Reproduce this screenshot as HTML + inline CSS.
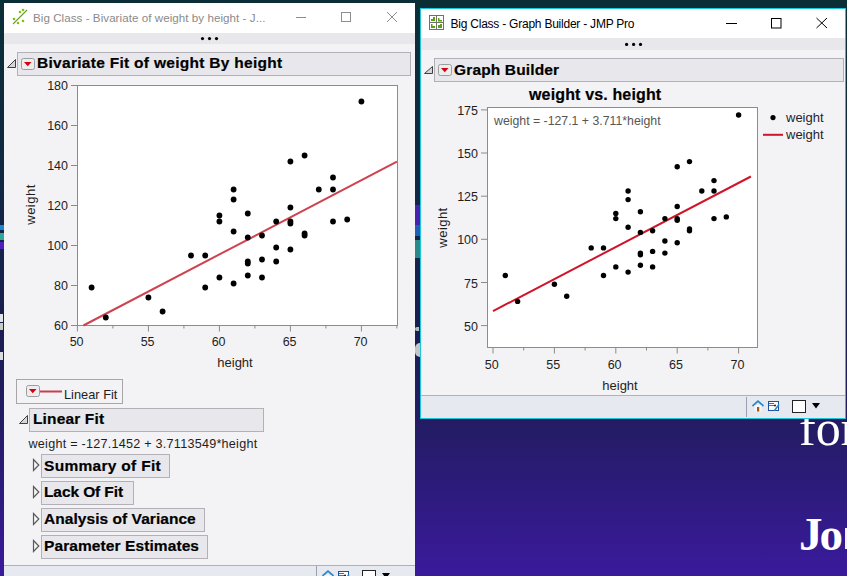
<!DOCTYPE html>
<html><head><meta charset="utf-8">
<style>
html,body{margin:0;padding:0;}
body{width:847px;height:576px;overflow:hidden;position:relative;font-family:"Liberation Sans",sans-serif;
background:linear-gradient(180deg,#0b2e36 0px,#0f2a40 150px,#1a1e52 330px,#241c66 430px,#3a1a9c 576px);}
.a{position:absolute;}
.t{position:absolute;white-space:nowrap;line-height:1;}
.hdr{position:absolute;box-sizing:border-box;border:1px solid #b4b0b8;background:#e8e8ec;}
.hb{letter-spacing:0.15px;}
.b{font-weight:bold;color:#000;-webkit-text-stroke:0.2px #000;}
svg{position:absolute;left:0;top:0;overflow:visible;}
</style></head><body>

<!-- desktop text -->
<div class="t" style="left:799px;top:402.8px;font-family:'Liberation Serif',serif;font-size:50px;color:#fff;">for</div>
<div class="t" style="left:799px;top:510.5px;font-family:'Liberation Serif',serif;font-size:47px;font-weight:bold;letter-spacing:-3px;color:#fff;">Jo</div>
<div class="a" style="left:845px;top:528px;width:2px;height:21px;background:#f4f4f8;"></div>

<!-- left strip details -->
<div class="a" style="left:0;top:225px;width:4px;height:5px;background:#1a88d0;"></div>
<div class="a" style="left:0;top:233px;width:4px;height:7px;background:#30a898;"></div>
<div class="a" style="left:0;top:242px;width:4px;height:7px;background:#5020b8;"></div>
<div class="a" style="left:0;top:314px;width:3px;height:8px;background:#e0e4ea;"></div>
<div class="a" style="left:0;top:323px;width:3px;height:7px;background:#c8ccc0;"></div>
<div class="a" style="left:0;top:352px;width:3px;height:8px;background:#d8dce0;"></div>

<div class="a" style="left:415px;top:205px;width:5px;height:20px;background:#4a22b0;"></div>
<div class="a" style="left:415px;top:225px;width:5px;height:11px;background:#2060b8;"></div>
<div class="a" style="left:415px;top:240px;width:5px;height:18px;background:#2a8a88;"></div>
<div class="a" style="left:415px;top:327px;width:4px;height:4px;border-radius:3px 0 0 3px;background:#b8bcc0;"></div>
<div class="a" style="left:415px;top:343px;width:5px;height:14px;border-radius:5px 0 0 5px;background:#c4c6c8;"></div>
<!-- ============ LEFT WINDOW ============ -->
<div class="a" style="left:4px;top:3px;width:411px;height:573px;background:#f3f3f5;"></div>
<div class="a" style="left:4px;top:3px;width:411px;height:30px;background:#fff;"></div>
<div class="a" style="left:4px;top:33px;width:411px;height:11px;background:#e8e8ec;"></div>
<div class="t" style="left:33px;top:11.5px;font-size:11.6px;color:#8a8a8a;letter-spacing:0.05px;">Big Class - Bivariate of weight by height - J...</div>

<!-- status bar left -->
<div class="a" style="left:4px;top:565px;width:411px;height:1px;background:#a9b1c8;"></div>
<div class="a" style="left:4px;top:566px;width:411px;height:10px;background:#e6e9f0;"></div>
<div class="a" style="left:316px;top:566px;width:1px;height:10px;background:#9aa0b0;"></div>

<!-- left plot frame -->
<div class="a" style="left:77px;top:85px;width:321px;height:241px;box-sizing:border-box;border:1px solid #8c8c8c;background:#fff;"></div>

<!-- outline header left -->
<div class="hdr" style="left:17px;top:52px;width:394px;height:24px;"></div>
<div class="t b hb" style="left:37px;top:55px;font-size:15.5px;letter-spacing:0.29px;">Bivariate Fit of weight By height</div>



<!-- legend box -->
<div class="a" style="left:16px;top:379px;width:107px;height:25px;box-sizing:border-box;border:1px solid #a6a6a6;"></div>
<div class="t" style="left:64px;top:389px;font-size:12.8px;color:#1e1e1e;">Linear Fit</div>

<div class="hdr" style="left:29px;top:408px;width:235px;height:24px;"></div>
<div class="t b hb" style="left:33px;top:411px;font-size:15.5px;">Linear Fit</div>
<div class="t" style="left:28.5px;top:437.5px;font-size:12.6px;color:#1e1e1e;letter-spacing:0.25px;">weight = -127.1452 + 3.7113549*height</div>

<div class="hdr" style="left:41px;top:454px;width:129px;height:24px;"></div>
<div class="t b hb" style="left:44px;top:458px;font-size:15.5px;letter-spacing:0.3px;">Summary of Fit</div>
<div class="hdr" style="left:41px;top:481px;width:93px;height:24px;"></div>
<div class="t b hb" style="left:44px;top:484px;font-size:15.5px;letter-spacing:-0.1px;">Lack Of Fit</div>
<div class="hdr" style="left:41px;top:508px;width:164px;height:24px;"></div>
<div class="t b hb" style="left:44px;top:511px;font-size:15.5px;letter-spacing:0.05px;">Analysis of Variance</div>
<div class="hdr" style="left:41px;top:535px;width:167px;height:24px;"></div>
<div class="t b hb" style="left:44px;top:538px;font-size:15.5px;letter-spacing:0.09px;">Parameter Estimates</div>

<!-- ============ RIGHT WINDOW ============ -->
<div class="a" style="left:420px;top:8px;width:426px;height:411px;box-sizing:border-box;border:1px solid #19c6dc;background:#f3f3f5;"></div>
<div class="a" style="left:421px;top:9px;width:424px;height:29px;background:#fff;"></div>
<div class="a" style="left:421px;top:38px;width:424px;height:12px;background:#e8e8ec;"></div>
<div class="t" style="left:450.5px;top:17.5px;font-size:12px;color:#000;letter-spacing:-0.23px;">Big Class - Graph Builder - JMP Pro</div>

<div class="hdr" style="left:434px;top:58px;width:410px;height:24px;"></div>
<div class="t b hb" style="left:454px;top:62px;font-size:15.5px;">Graph Builder</div>
<div class="t b hb" style="left:529px;top:87px;font-size:16px;">weight vs. height</div>

<!-- right plot frame -->
<div class="a" style="left:487px;top:107px;width:271px;height:241px;box-sizing:border-box;border:1px solid #8c8c8c;background:#fff;"></div>
<div class="t" style="left:494px;top:115px;font-size:12.3px;color:#555;">weight = -127.1 + 3.711*height</div>

<!-- legend right -->
<div class="t" style="left:786px;top:111px;font-size:13px;color:#1e1e2e;">weight</div>
<div class="t" style="left:786px;top:128px;font-size:13px;color:#1e1e2e;">weight</div>

<!-- status bar right -->
<div class="a" style="left:421px;top:395px;width:424px;height:1px;background:#a9b1c8;"></div>
<div class="a" style="left:421px;top:396px;width:424px;height:22px;background:#e6e9f0;"></div>
<div class="a" style="left:746px;top:397px;width:1px;height:20px;background:#9aa0b0;"></div>

<div class="t" style="left:18px;top:80.0px;width:50px;text-align:right;font-size:12.5px;color:#1e1e1e;">180</div>
<div class="t" style="left:18px;top:120.0px;width:50px;text-align:right;font-size:12.5px;color:#1e1e1e;">160</div>
<div class="t" style="left:18px;top:160.0px;width:50px;text-align:right;font-size:12.5px;color:#1e1e1e;">140</div>
<div class="t" style="left:18px;top:200.0px;width:50px;text-align:right;font-size:12.5px;color:#1e1e1e;">120</div>
<div class="t" style="left:18px;top:240.0px;width:50px;text-align:right;font-size:12.5px;color:#1e1e1e;">100</div>
<div class="t" style="left:18px;top:280.0px;width:50px;text-align:right;font-size:12.5px;color:#1e1e1e;">80</div>
<div class="t" style="left:18px;top:320.0px;width:50px;text-align:right;font-size:12.5px;color:#1e1e1e;">60</div>
<div class="t" style="left:51.6px;top:335.6px;width:50px;text-align:center;font-size:12.5px;color:#1e1e1e;">50</div>
<div class="t" style="left:122.6px;top:335.6px;width:50px;text-align:center;font-size:12.5px;color:#1e1e1e;">55</div>
<div class="t" style="left:193.6px;top:335.6px;width:50px;text-align:center;font-size:12.5px;color:#1e1e1e;">60</div>
<div class="t" style="left:264.6px;top:335.6px;width:50px;text-align:center;font-size:12.5px;color:#1e1e1e;">65</div>
<div class="t" style="left:335.6px;top:335.6px;width:50px;text-align:center;font-size:12.5px;color:#1e1e1e;">70</div>
<div class="t" style="left:205px;top:356px;width:60px;text-align:center;font-size:13px;color:#1e1e1e;">height</div>
<div class="t" style="left:0.3px;top:197.9px;width:60px;text-align:center;font-size:13px;color:#1e1e1e;letter-spacing:0.48px;transform:rotate(-90deg);">weight</div>
<div class="t" style="left:428px;top:320.6px;width:50px;text-align:right;font-size:12.5px;color:#1e1e1e;">50</div>
<div class="t" style="left:428px;top:277.5px;width:50px;text-align:right;font-size:12.5px;color:#1e1e1e;">75</div>
<div class="t" style="left:428px;top:234.3px;width:50px;text-align:right;font-size:12.5px;color:#1e1e1e;">100</div>
<div class="t" style="left:428px;top:191.2px;width:50px;text-align:right;font-size:12.5px;color:#1e1e1e;">125</div>
<div class="t" style="left:428px;top:148.0px;width:50px;text-align:right;font-size:12.5px;color:#1e1e1e;">150</div>
<div class="t" style="left:428px;top:104.9px;width:50px;text-align:right;font-size:12.5px;color:#1e1e1e;">175</div>
<div class="t" style="left:466.8px;top:359.2px;width:50px;text-align:center;font-size:12.5px;color:#1e1e1e;">50</div>
<div class="t" style="left:528.2px;top:359.2px;width:50px;text-align:center;font-size:12.5px;color:#1e1e1e;">55</div>
<div class="t" style="left:589.6px;top:359.2px;width:50px;text-align:center;font-size:12.5px;color:#1e1e1e;">60</div>
<div class="t" style="left:651.0px;top:359.2px;width:50px;text-align:center;font-size:12.5px;color:#1e1e1e;">65</div>
<div class="t" style="left:712.4px;top:359.2px;width:50px;text-align:center;font-size:12.5px;color:#1e1e1e;">70</div>
<div class="t" style="left:590px;top:379px;width:60px;text-align:center;font-size:13px;color:#1e1e1e;">height</div>
<div class="t" style="left:411.8px;top:220.8px;width:60px;text-align:center;font-size:13px;color:#1e1e1e;letter-spacing:0.45px;transform:rotate(-90deg);">weight</div>

<svg width="847" height="576" viewBox="0 0 847 576">
 <!-- left title icon -->
 <g>
  <line x1="13" y1="24" x2="27" y2="10" stroke="#62a028" stroke-width="1.1"/>
  <g fill="#86bc10"><circle cx="14" cy="19" r="1.3"/><circle cx="18" cy="23" r="1.3"/><circle cx="20" cy="12" r="1.3"/><circle cx="23" cy="10" r="1.3"/><circle cx="23" cy="21" r="1.3"/></g>
 </g>
 <!-- left window controls (inactive gray) -->
 <g stroke="#8c8c8c" stroke-width="1" fill="none">
  <line x1="296" y1="17.5" x2="306" y2="17.5"/>
  <rect x="341.5" y="12.5" width="9" height="9"/>
  <line x1="387" y1="12" x2="397" y2="22"/><line x1="397" y1="12" x2="387" y2="22"/>
 </g>
 <g fill="#000"><circle cx="202.5" cy="38.6" r="1.6"/><circle cx="209.5" cy="38.6" r="1.6"/><circle cx="216.5" cy="38.6" r="1.6"/></g>

 <!-- left disclosure triangles -->
 <g fill="#d6d6d8" stroke="#404040" stroke-width="1">
  <path d="M15.5 59.5 L15.5 67.5 L7.5 67.5 Z"/>
  <path d="M27.5 415.5 L27.5 423.5 L19.5 423.5 Z"/>
 </g>
 <g fill="#f4f4f6" stroke="#5a5a5a" stroke-width="1.2">
  <path d="M33.5 459.5 L38.8 465 L33.5 470.5 Z"/>
  <path d="M33.5 486.5 L38.8 492 L33.5 497.5 Z"/>
  <path d="M33.5 513.5 L38.8 519 L33.5 524.5 Z"/>
  <path d="M33.5 540.5 L38.8 546 L33.5 551.5 Z"/>
 </g>
 <!-- red triangle buttons -->
 <g>
  <rect x="21.5" y="58.5" width="13" height="11" rx="2" fill="#ededf0" stroke="#9a9e9a"/>
  <path d="M24 62 L31.5 62 L27.75 66.2 Z" fill="#d40010"/>
  <rect x="26.5" y="385.5" width="13" height="11" rx="2" fill="#ededf0" stroke="#9a9e9a"/>
  <path d="M29 389 L36.5 389 L32.75 393.2 Z" fill="#d40010"/>
  <line x1="40" y1="391.5" x2="62" y2="391.5" stroke="#c84050" stroke-width="2"/>
  <rect x="438.5" y="64.5" width="13" height="11" rx="2" fill="#ededf0" stroke="#9a9e9a"/>
  <path d="M441 68 L448.5 68 L444.75 72.2 Z" fill="#d40010"/>
 </g>
 <!-- left plot -->
 <g stroke="#8a8a8a" stroke-width="1"><line x1="71" y1="85.5" x2="77" y2="85.5"/><line x1="71" y1="125.5" x2="77" y2="125.5"/><line x1="71" y1="165.5" x2="77" y2="165.5"/><line x1="71" y1="205.5" x2="77" y2="205.5"/><line x1="71" y1="245.5" x2="77" y2="245.5"/><line x1="71" y1="285.5" x2="77" y2="285.5"/><line x1="71" y1="325.5" x2="77" y2="325.5"/><line x1="77.4" y1="325.5" x2="77.4" y2="331.5"/><line x1="112.9" y1="325.5" x2="112.9" y2="328.5"/><line x1="148.4" y1="325.5" x2="148.4" y2="331.5"/><line x1="183.9" y1="325.5" x2="183.9" y2="328.5"/><line x1="219.4" y1="325.5" x2="219.4" y2="331.5"/><line x1="254.9" y1="325.5" x2="254.9" y2="328.5"/><line x1="290.4" y1="325.5" x2="290.4" y2="331.5"/><line x1="325.9" y1="325.5" x2="325.9" y2="328.5"/><line x1="361.4" y1="325.5" x2="361.4" y2="331.5"/><line x1="396.9" y1="325.5" x2="396.9" y2="328.5"/></g>
 <line x1="83.4" y1="325.5" x2="396.9" y2="161.6" stroke="#cf4250" stroke-width="2"/>
 <g fill="#000"><circle cx="91.6" cy="287.5" r="2.9"/><circle cx="105.8" cy="317.5" r="2.9"/><circle cx="148.4" cy="297.5" r="2.9"/><circle cx="162.6" cy="311.5" r="2.9"/><circle cx="191.0" cy="255.5" r="2.9"/><circle cx="205.2" cy="255.5" r="2.9"/><circle cx="205.2" cy="287.5" r="2.9"/><circle cx="219.4" cy="277.5" r="2.9"/><circle cx="219.4" cy="215.5" r="2.9"/><circle cx="219.4" cy="221.5" r="2.9"/><circle cx="233.6" cy="283.5" r="2.9"/><circle cx="233.6" cy="231.5" r="2.9"/><circle cx="233.6" cy="199.5" r="2.9"/><circle cx="233.6" cy="189.5" r="2.9"/><circle cx="247.8" cy="213.5" r="2.9"/><circle cx="247.8" cy="237.5" r="2.9"/><circle cx="247.8" cy="261.5" r="2.9"/><circle cx="247.8" cy="263.5" r="2.9"/><circle cx="247.8" cy="275.5" r="2.9"/><circle cx="262.0" cy="235.5" r="2.9"/><circle cx="262.0" cy="259.5" r="2.9"/><circle cx="262.0" cy="277.5" r="2.9"/><circle cx="276.2" cy="221.5" r="2.9"/><circle cx="276.2" cy="247.5" r="2.9"/><circle cx="276.2" cy="261.5" r="2.9"/><circle cx="290.4" cy="207.5" r="2.9"/><circle cx="290.4" cy="221.5" r="2.9"/><circle cx="290.4" cy="223.5" r="2.9"/><circle cx="290.4" cy="249.5" r="2.9"/><circle cx="290.4" cy="161.5" r="2.9"/><circle cx="304.6" cy="233.5" r="2.9"/><circle cx="304.6" cy="235.5" r="2.9"/><circle cx="304.6" cy="155.5" r="2.9"/><circle cx="318.8" cy="189.5" r="2.9"/><circle cx="333.0" cy="177.5" r="2.9"/><circle cx="333.0" cy="189.5" r="2.9"/><circle cx="333.0" cy="221.5" r="2.9"/><circle cx="347.2" cy="219.5" r="2.9"/><circle cx="361.4" cy="101.5" r="2.9"/></g>

 <!-- right window icon -->
 <g>
  <rect x="429.5" y="15.5" width="14" height="14" fill="#fff" stroke="#707070"/>
  <line x1="436.5" y1="15.5" x2="436.5" y2="29.5" stroke="#707070"/>
  <line x1="429.5" y1="22.5" x2="443.5" y2="22.5" stroke="#707070"/>
  <g fill="#5aa010">
   <rect x="431" y="19" width="4" height="2"/><rect x="433" y="17" width="2" height="2"/>
   <rect x="438" y="18" width="1.5" height="3"/><rect x="438" y="20" width="4" height="1.5"/>
   <rect x="431" y="26" width="4" height="2"/><rect x="431" y="24" width="1.5" height="3"/>
   <rect x="438" y="25" width="4" height="3"/><rect x="440" y="24" width="2" height="2"/>
  </g>
 </g>
 <!-- right window controls -->
 <g stroke="#000" stroke-width="1" fill="none">
  <line x1="726" y1="23.5" x2="737" y2="23.5"/>
  <rect x="771.5" y="18.5" width="9.5" height="9.5"/>
  <line x1="816.5" y1="18" x2="827" y2="28"/><line x1="827" y1="18" x2="816.5" y2="28"/>
 </g>
 <g fill="#000"><circle cx="626.6" cy="44.4" r="1.6"/><circle cx="633.6" cy="44.4" r="1.6"/><circle cx="640.5" cy="44.4" r="1.6"/></g>
 <g fill="#d6d6d8" stroke="#404040" stroke-width="1">
  <path d="M432.5 66.5 L432.5 73.5 L424.5 73.5 Z"/>
 </g>
 <!-- right plot -->
 <g stroke="#8a8a8a" stroke-width="1"><line x1="481" y1="325.6" x2="487.5" y2="325.6"/><line x1="481" y1="282.5" x2="487.5" y2="282.5"/><line x1="481" y1="239.3" x2="487.5" y2="239.3"/><line x1="481" y1="196.2" x2="487.5" y2="196.2"/><line x1="481" y1="153.0" x2="487.5" y2="153.0"/><line x1="481" y1="109.9" x2="487.5" y2="109.9"/><line x1="493.0" y1="347.5" x2="493.0" y2="353.5"/><line x1="523.7" y1="347.5" x2="523.7" y2="350.5"/><line x1="554.4" y1="347.5" x2="554.4" y2="353.5"/><line x1="585.1" y1="347.5" x2="585.1" y2="350.5"/><line x1="615.8" y1="347.5" x2="615.8" y2="353.5"/><line x1="646.5" y1="347.5" x2="646.5" y2="350.5"/><line x1="677.2" y1="347.5" x2="677.2" y2="353.5"/><line x1="707.9" y1="347.5" x2="707.9" y2="350.5"/><line x1="738.6" y1="347.5" x2="738.6" y2="353.5"/></g>
 <line x1="493.0" y1="311.1" x2="750.9" y2="176.5" stroke="#d0142a" stroke-width="2"/>
 <g fill="#000"><circle cx="505.3" cy="275.5" r="2.7"/><circle cx="517.6" cy="301.4" r="2.7"/><circle cx="554.4" cy="284.2" r="2.7"/><circle cx="566.7" cy="296.3" r="2.7"/><circle cx="591.2" cy="247.9" r="2.7"/><circle cx="603.5" cy="247.9" r="2.7"/><circle cx="603.5" cy="275.5" r="2.7"/><circle cx="615.8" cy="266.9" r="2.7"/><circle cx="615.8" cy="213.4" r="2.7"/><circle cx="615.8" cy="218.6" r="2.7"/><circle cx="628.1" cy="272.1" r="2.7"/><circle cx="628.1" cy="227.2" r="2.7"/><circle cx="628.1" cy="199.6" r="2.7"/><circle cx="628.1" cy="191.0" r="2.7"/><circle cx="640.4" cy="211.7" r="2.7"/><circle cx="640.4" cy="232.4" r="2.7"/><circle cx="640.4" cy="253.1" r="2.7"/><circle cx="640.4" cy="254.8" r="2.7"/><circle cx="640.4" cy="265.2" r="2.7"/><circle cx="652.6" cy="230.7" r="2.7"/><circle cx="652.6" cy="251.4" r="2.7"/><circle cx="652.6" cy="266.9" r="2.7"/><circle cx="664.9" cy="218.6" r="2.7"/><circle cx="664.9" cy="241.0" r="2.7"/><circle cx="664.9" cy="253.1" r="2.7"/><circle cx="677.2" cy="206.5" r="2.7"/><circle cx="677.2" cy="218.6" r="2.7"/><circle cx="677.2" cy="220.3" r="2.7"/><circle cx="677.2" cy="242.8" r="2.7"/><circle cx="677.2" cy="166.8" r="2.7"/><circle cx="689.5" cy="228.9" r="2.7"/><circle cx="689.5" cy="230.7" r="2.7"/><circle cx="689.5" cy="161.6" r="2.7"/><circle cx="701.8" cy="191.0" r="2.7"/><circle cx="714.0" cy="180.6" r="2.7"/><circle cx="714.0" cy="191.0" r="2.7"/><circle cx="714.0" cy="218.6" r="2.7"/><circle cx="726.3" cy="216.9" r="2.7"/><circle cx="738.6" cy="115.0" r="2.7"/></g>
 <circle cx="773" cy="117.6" r="2.6" fill="#000"/>
 <line x1="763" y1="134.8" x2="783" y2="134.8" stroke="#d0142a" stroke-width="2"/>

 <!-- status icons right -->
 <g>
  <path d="M752.5 406 L758 401.2 L763.5 406" fill="none" stroke="#2a88c8" stroke-width="1.7"/>
  <rect x="754.5" y="405" width="7" height="6.5" fill="#f4f6fa"/>
  <rect x="757" y="407" width="2.2" height="4.5" fill="#a05a10"/>
  <rect x="768.5" y="401.5" width="10" height="9" fill="#fff" stroke="#2050a0"/>
  <line x1="769" y1="403.5" x2="774" y2="403.5" stroke="#e03030"/>
  <line x1="769" y1="405.5" x2="774" y2="405.5" stroke="#4070c0"/>
  <circle cx="775" cy="405.5" r="0.9" fill="#000"/>
  <path d="M774.5 410.5 L779 404.5" stroke="#2a88d0" stroke-width="1.6"/>
  <rect x="792.5" y="400.5" width="13" height="12" fill="#fff" stroke="#222"/>
  <path d="M812 403 L820 403 L816 408.5 Z" fill="#000"/>
 </g>
 <!-- status icons left -->
 <g transform="translate(-430,170)">
  <path d="M752.5 406 L758 401.2 L763.5 406" fill="none" stroke="#2a88c8" stroke-width="1.7"/>
  <rect x="754.5" y="405" width="7" height="6.5" fill="#f4f6fa"/>
  <rect x="757" y="407" width="2.2" height="4.5" fill="#a05a10"/>
  <rect x="768.5" y="401.5" width="10" height="9" fill="#fff" stroke="#2050a0"/>
  <line x1="769" y1="403.5" x2="774" y2="403.5" stroke="#e03030"/>
  <line x1="769" y1="405.5" x2="774" y2="405.5" stroke="#4070c0"/>
  <circle cx="775" cy="405.5" r="0.9" fill="#000"/>
  <path d="M774.5 410.5 L779 404.5" stroke="#2a88d0" stroke-width="1.6"/>
  <rect x="792.5" y="400.5" width="13" height="12" fill="#fff" stroke="#222"/>
  <path d="M812 403 L820 403 L816 408.5 Z" fill="#000"/>
 </g>
</svg>
</body></html>
